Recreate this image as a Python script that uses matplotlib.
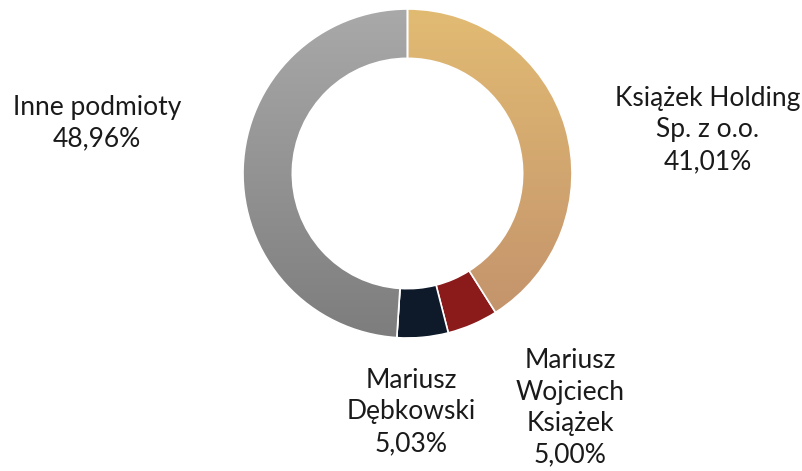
import matplotlib
matplotlib.use("Agg")
import matplotlib.pyplot as plt
import numpy as np
from matplotlib.colors import LinearSegmentedColormap
from matplotlib.patches import PathPatch

labels = ["Książek Holding\nSp. z o.o.", "Mariusz\nWojciech\nKsiążek", "Mariusz\nDębkowski", "Inne podmioty"]
values = [41.01, 5.00, 5.03, 48.96]
value_text = ["41,01%", "5,00%", "5,03%", "48,96%"]
colors_top = ["#E2BB73", "#8B1A1A", "#0E1A2A", "#A9A9A9"]
colors_bot = ["#C4946C", "#8B1A1A", "#0E1A2A", "#7D7D7D"]

W, H = 803, 471
fig = plt.figure(figsize=(W / 100, H / 100), dpi=100)
ax = fig.add_axes([0, 0, 1, 1])

cx, cy, R = 407.5, H - 173.5, 164.5
wedges, _ = ax.pie(values, startangle=90, counterclock=False, radius=R, center=(cx, cy),
                   colors=colors_top, frame=True,
                   wedgeprops=dict(width=R * 0.30, edgecolor="white", linewidth=1.2))
ax.set_xlim(0, W)
ax.set_ylim(0, H)
ax.set_aspect("equal")
ax.axis("off")

for w, ct, cb in zip(wedges, colors_top, colors_bot):
    if ct == cb:
        continue
    bb = w.get_path().get_extents()
    cmap = LinearSegmentedColormap.from_list("g", [cb, ct])
    grad = np.linspace(0, 1, 256).reshape(-1, 1)
    im = ax.imshow(grad, cmap=cmap, origin="lower", aspect="auto",
                   extent=(bb.x0, bb.x1, bb.y0, bb.y1), zorder=w.get_zorder() + 0.1)
    im.set_clip_path(w)
    ax.add_patch(PathPatch(w.get_path(), facecolor="none", edgecolor="white",
                           linewidth=1.2, zorder=w.get_zorder() + 0.2))
ax.set_xlim(0, W)
ax.set_ylim(0, H)

font = dict(family=["Lato", "DejaVu Sans"], fontsize=19, color="#1a1a1a",
            ha="center", va="center", linespacing=1.32)
pos = [(708, H - 130), (570, H - 408), (411, H - 412), (97, H - 123)]
for lab, vt, (x, y) in zip(labels, value_text, pos):
    ax.text(x, y, lab + "\n" + vt, **font)

fig.savefig("out.png", dpi=100)
